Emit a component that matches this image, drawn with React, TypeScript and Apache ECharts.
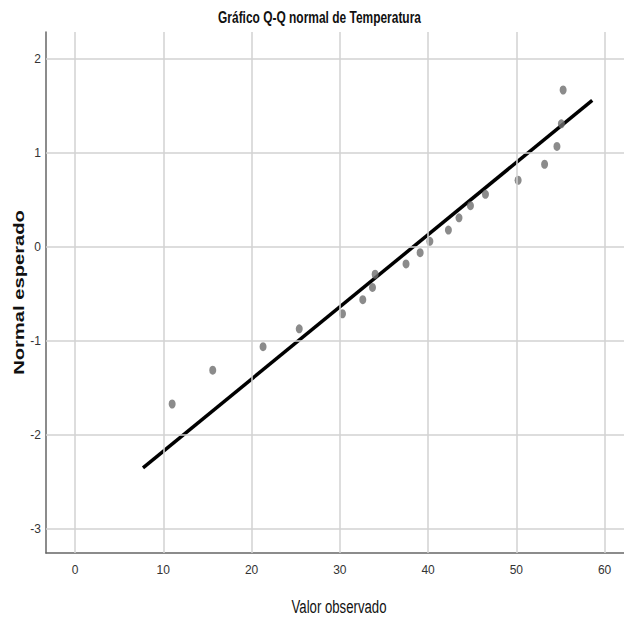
import React, { useEffect, useRef } from "react";
import * as echarts from "echarts";

const observed = [11.0, 15.6, 21.3, 25.4, 30.3, 32.6, 33.7, 34.0, 37.5, 39.1, 40.2, 42.3, 43.5, 44.8, 46.5, 50.2, 53.2, 54.6, 55.1, 55.3];
const expected = [-1.67, -1.31, -1.06, -0.87, -0.71, -0.56, -0.43, -0.29, -0.18, -0.06, 0.06, 0.18, 0.31, 0.44, 0.56, 0.71, 0.88, 1.07, 1.31, 1.67];
const lineX = [7.7, 58.6];
const lineY = [-2.35, 1.56];
const xTicks = [0, 10, 20, 30, 40, 50, 60];
const yTicks = [2, 1, 0, -1, -2, -3];

const TITLE = "Gráfico Q-Q normal de Temperatura";
const X_NAME = "Valor observado";
const Y_NAME = "Normal esperado";

const SANS = "'Liberation Sans', Arial, sans-serif";

function measure(text: string, font: string): number {
  const c = document.createElement("canvas");
  const ctx = c.getContext("2d")!;
  ctx.font = font;
  return ctx.measureText(text).width || 1;
}

export default function App() {
  const ref = useRef<HTMLDivElement>(null);
  useEffect(() => {
    document.body.style.margin = "0";
    const chart = echarts.init(ref.current!, null, { renderer: "svg" });
    const gridColor = "#d2d2d2";
    const titleFont = `bold 17px ${SANS}`;
    const xNameFont = `18px ${SANS}`;
    const yNameFont = `bold 15px ${SANS}`;
    const titleScale = 203 / measure(TITLE, titleFont);
    const xNameScale = 95 / measure(X_NAME, xNameFont);
    const yNameScale = 165 / measure(Y_NAME, yNameFont);
    chart.setOption({
      animation: false,
      backgroundColor: "#ffffff",
      graphic: [
        {
          type: "text",
          x: 319.5,
          y: 17,
          scaleX: titleScale,
          style: {
            text: TITLE,
            font: titleFont,
            fill: "#111",
            textAlign: "center",
            textVerticalAlign: "middle",
          },
        },
        {
          type: "text",
          x: 339,
          y: 607,
          scaleX: xNameScale,
          style: {
            text: X_NAME,
            font: xNameFont,
            fill: "#111",
            textAlign: "center",
            textVerticalAlign: "middle",
          },
        },
        {
          type: "text",
          x: 18.5,
          y: 292.5,
          rotation: Math.PI / 2,
          scaleX: yNameScale,
          style: {
            text: Y_NAME,
            font: yNameFont,
            fill: "#111",
            textAlign: "center",
            textVerticalAlign: "middle",
          },
        },
      ],
      grid: { left: 46, top: 32, right: 0, bottom: 70 },
      xAxis: {
        type: "value",
        min: -3.29,
        max: 62.2,
        axisLine: { show: true, onZero: false, lineStyle: { color: "#666", width: 1.5 } },
        axisTick: { show: false },
        splitLine: { show: false },
        axisLabel: {
          customValues: xTicks,
          margin: 11,
          fontFamily: SANS,
          fontSize: 12,
          color: "#333",
        },
      },
      yAxis: {
        type: "value",
        min: -3.255,
        max: 2.287,
        axisLine: { show: true, onZero: false, lineStyle: { color: "#666", width: 1.5 } },
        axisTick: { show: false },
        splitLine: { show: false },
        axisLabel: {
          customValues: yTicks,
          margin: 5,
          fontFamily: SANS,
          fontSize: 12,
          color: "#333",
        },
      },
      series: [
        {
          type: "line",
          data: [],
          silent: true,
          markLine: {
            silent: true,
            symbol: ["none", "none"],
            label: { show: false },
            lineStyle: { color: gridColor, width: 1.5, type: "solid" },
            data: [
              ...xTicks.map((v) => ({ xAxis: v })),
              ...yTicks.map((v) => ({ yAxis: v })),
            ],
          },
        },
        {
          type: "line",
          data: lineX.map((x, i) => [x, lineY[i]]),
          showSymbol: false,
          symbol: "none",
          lineStyle: { color: "#000", width: 3.5 },
          silent: true,
          z: 3,
        },
        {
          type: "scatter",
          data: observed.map((x, i) => [x, expected[i]]),
          symbol: "circle",
          symbolSize: [7, 9],
          itemStyle: { color: "#6e6e6e" },
          z: 4,
        },
      ],
    });
    return () => chart.dispose();
  }, []);
  return <div ref={ref} style={{ width: 624, height: 623 }} />;
}
